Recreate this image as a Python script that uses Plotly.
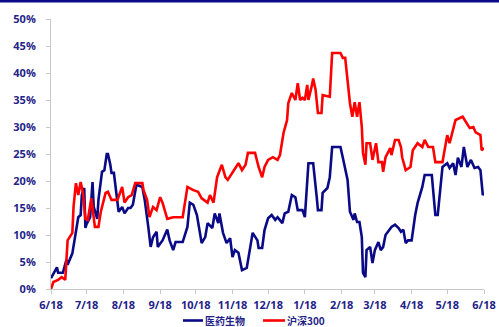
import pandas as pd
import plotly.graph_objects as go

start = pd.Timestamp("2017-06-18")

# days after 2017-06-18, value in %
med_days = [0, 5, 6, 10, 13, 14, 18, 20, 22, 23, 25, 26, 28, 29, 30, 33, 35, 36, 39, 40,
            43, 45, 47, 48, 50, 51, 53, 56, 57, 60, 62, 65, 67, 69, 72, 77, 79, 82, 84, 86,
            89, 90, 94, 98, 100, 103, 105, 111, 115, 117, 120, 123, 127, 130, 132, 136, 138,
            141, 142, 145, 148, 151, 153, 155, 158, 161, 165, 168, 170, 174, 175, 178, 180,
            183, 186, 189, 191, 195, 197, 200, 203, 206, 208, 212, 214, 217, 221, 224, 225,
            228, 229, 233, 235, 237, 244, 246, 250, 252, 255, 256, 258, 260, 262, 263, 265,
            266, 269, 271, 273, 276, 278, 280, 282, 287, 290, 293, 295, 297, 299, 301, 304,
            307, 309, 313, 315, 321, 324, 326, 328, 330, 334, 336, 339, 341, 343, 346, 348,
            351, 354, 357, 360, 362, 364, 365]
med_vals = [2.0, 4.0, 3.0, 3.0, 5.4, 4.5, 6.6, 9.6, 12.0, 13.3, 13.7, 17.4, 18.7, 11.3, 12.0,
            13.3, 19.8, 15.2, 13.0, 16.5, 21.7, 22.0, 25.0, 25.0, 23.0, 21.5, 21.5, 16.0, 14.3,
            15.2, 14.0, 15.0, 15.0, 15.6, 19.3, 18.9, 16.5, 11.5, 7.8, 9.6, 10.6, 7.8, 9.0,
            11.0, 9.0, 7.2, 8.7, 8.7, 11.5, 16.0, 15.6, 13.7, 8.5, 9.6, 12.2, 11.3, 14.0, 12.2,
            14.0, 10.4, 8.5, 9.4, 5.9, 7.2, 6.7, 3.5, 3.9, 7.8, 10.4, 9.0, 7.6, 7.6, 10.9, 13.1,
            13.7, 12.8, 13.3, 12.2, 14.0, 14.3, 17.4, 17.0, 14.6, 14.6, 13.3, 23.3, 23.3, 17.0,
            14.6, 14.6, 17.8, 18.7, 20.7, 26.3, 26.3, 24.3, 20.2, 14.3, 12.8, 14.0, 12.4, 12.4,
            9.6, 3.0, 2.2, 7.2, 7.8, 4.8, 7.2, 8.7, 7.2, 7.8, 10.0, 11.5, 11.9, 11.3, 10.6, 11.0,
            8.5, 9.0, 9.0, 13.7, 15.9, 18.9, 21.1, 21.1, 13.7, 13.7, 18.7, 22.6, 23.3, 22.4,
            23.3, 21.1, 24.3, 22.6, 26.3, 22.6, 23.9, 22.4, 22.6, 22.0, 17.4, 17.8]

hs_days = [0, 2, 6, 9, 12, 14, 18, 19, 21, 23, 25, 27, 29, 31, 34, 35, 37, 40, 42, 46, 48,
           51, 56, 60, 62, 65, 68, 71, 77, 78, 81, 83, 86, 89, 92, 94, 98, 103, 111, 115, 120,
           124, 127, 132, 134, 137, 140, 144, 147, 149, 153, 158, 161, 164, 166, 172, 175, 178,
           180, 183, 187, 191, 193, 196, 199, 200, 203, 206, 208, 210, 212, 214, 216, 217, 220,
           221, 223, 225, 228, 229, 235, 237, 244, 246, 248, 250, 252, 254, 256, 258, 260, 262,
           263, 265, 266, 269, 271, 274, 276, 279, 280, 282, 286, 287, 290, 293, 295, 296, 298,
           299, 303, 305, 309, 313, 315, 318, 322, 324, 330, 332, 334, 336, 341, 347, 351, 353,
           356, 358, 362, 363, 365]
hs_vals = [0.0, 1.3, 1.7, 2.2, 1.7, 9.0, 10.4, 15.2, 19.6, 17.4, 19.8, 17.8, 13.0, 12.8, 16.8,
           15.0, 11.5, 11.5, 14.3, 17.8, 18.0, 16.5, 16.5, 18.9, 16.0, 17.0, 17.4, 19.6, 19.6,
           18.3, 16.5, 13.3, 15.2, 14.6, 17.0, 16.0, 13.0, 13.3, 13.3, 18.9, 18.3, 18.0, 16.8,
           16.0, 17.4, 16.0, 20.7, 23.0, 20.7, 20.2, 21.5, 23.3, 22.0, 23.0, 25.2, 25.2, 22.6,
           20.7, 22.6, 23.9, 24.4, 23.9, 24.8, 28.9, 31.3, 34.4, 36.3, 35.0, 38.1, 35.0, 35.4,
           35.0, 37.8, 35.0, 37.8, 39.0, 36.9, 32.6, 32.6, 35.9, 35.6, 43.7, 43.7, 42.8, 42.8,
           38.1, 34.4, 31.9, 34.6, 31.9, 34.6, 30.0, 25.2, 23.0, 27.0, 27.0, 23.9, 27.0, 23.5,
           23.5, 21.7, 24.4, 26.1, 24.8, 27.6, 27.6, 26.3, 24.4, 23.0, 22.0, 22.6, 25.7, 27.0,
           26.3, 27.6, 26.3, 26.3, 23.5, 23.5, 26.3, 28.5, 27.0, 31.3, 31.9, 30.4, 29.8, 30.0,
           29.0, 28.5, 25.7, 26.1]

tick_dates = ["2017-06-18", "2017-07-18", "2017-08-18", "2017-09-18", "2017-10-18",
              "2017-11-18", "2017-12-18", "2018-01-18", "2018-02-18", "2018-03-18",
              "2018-04-18", "2018-05-18", "2018-06-18"]
tick_text = ["6/18", "7/18", "8/18", "9/18", "10/18", "11/18", "12/18", "1/18", "2/18",
             "3/18", "4/18", "5/18", "6/18"]
y_ticks = [0, 5, 10, 15, 20, 25, 30, 35, 40, 45, 50]
y_text = [f"{v}%" for v in y_ticks]

series_names = ["医药生物", "沪深300"]
colors = ["#0A0A86", "#FF0000"]

med_x = start + pd.to_timedelta(med_days, unit="D")
hs_x = start + pd.to_timedelta(hs_days, unit="D")

fig = go.Figure()
fig.add_trace(go.Scatter(x=med_x, y=med_vals, mode="lines", name=series_names[0],
                         line=dict(color=colors[0], width=2.6), showlegend=False))
fig.add_trace(go.Scatter(x=hs_x, y=hs_vals, mode="lines", name=series_names[1],
                         line=dict(color=colors[1], width=2.6), showlegend=False))

text_color = "#1F2388"
tick_font = dict(family="Open Sans, Noto Sans CJK SC, sans-serif", size=11,
                 color=text_color, weight="bold")

# plot area in pixels: x 51..484, y 19..289
L, R, T, B = 51, 484, 19, 289
W, H = R - L, B - T


def px(x):
    return (x - L) / W


def py(y):
    return (B - y) / H


fig.update_layout(
    width=499, height=327,
    margin=dict(l=L, r=499 - R, t=T, b=327 - B, autoexpand=False),
    plot_bgcolor="white", paper_bgcolor="white",
    showlegend=False,
    xaxis=dict(type="date", range=["2017-06-18", "2018-06-18"],
               tickvals=tick_dates, ticktext=tick_text, tickfont=tick_font,
               showgrid=False, zeroline=False, showline=True, linecolor="#C8C8C8",
               linewidth=1, ticks="outside", ticklen=4, tickcolor="#C8C8C8",
               ticklabelstandoff=2),
    yaxis=dict(range=[0, 50], tickvals=y_ticks, ticktext=y_text, tickfont=tick_font,
               showgrid=False, zeroline=False, showline=True, linecolor="#C8C8C8",
               linewidth=1, ticks="outside", ticklen=4, tickcolor="#C8C8C8",
               ticklabelstandoff=8),
)

# top rule
fig.add_shape(type="line", xref="paper", yref="paper",
              x0=px(0), x1=px(499), y0=py(1.2), y1=py(1.2),
              line=dict(color="#0A0A86", width=2.5))

# manual legend
legend_items = [(183, 203, 204), (263, 285, 286)]
ly = py(320.5)
for (lx0, lx1, tx), name, col in zip(legend_items, series_names, colors):
    fig.add_shape(type="line", xref="paper", yref="paper", x0=px(lx0), x1=px(lx1),
                  y0=ly, y1=ly, line=dict(color=col, width=2.6))
    fig.add_annotation(xref="paper", yref="paper", x=px(tx), y=ly, text=name,
                       showarrow=False, xanchor="left", yanchor="middle", borderpad=0,
                       font=dict(family="Noto Sans CJK SC, sans-serif", size=10,
                                 color=text_color, weight="bold"))

fig.write_html("out.html")
